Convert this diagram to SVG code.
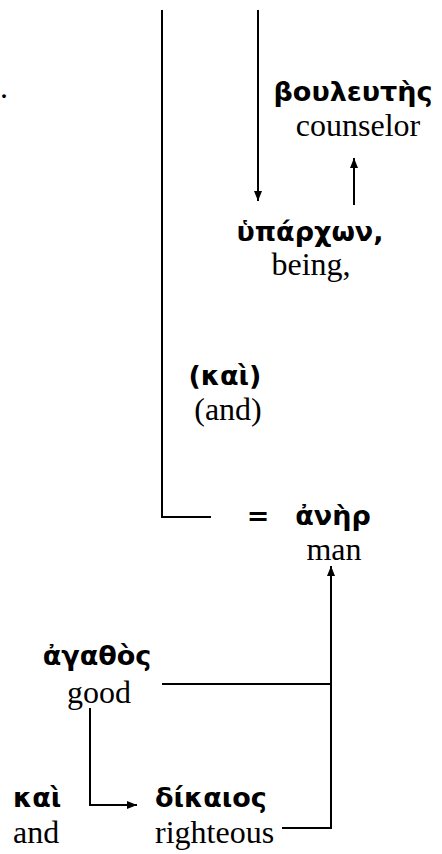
<svg xmlns="http://www.w3.org/2000/svg" width="442" height="854" viewBox="0 0 442 854">
<style>
.gk{font-family:"DejaVu Sans","Noto Sans",sans-serif;font-weight:bold;font-size:27px;fill:#000}
.en{font-family:"Liberation Serif","Times New Roman","DejaVu Serif",serif;font-size:32px;fill:#000}
.ln{fill:none;stroke:#000;stroke-width:2}
</style>
<defs>
<marker id="ah" markerUnits="userSpaceOnUse" markerWidth="10" markerHeight="10" viewBox="0 0 10 10" refX="10" refY="5" orient="auto">
<path d="M0,1 L10,5 L0,9 Z" fill="#000"/>
</marker>
</defs>
<text class="en" x="0" y="98">.</text>
<g id="connectors">
<polyline class="ln" points="162,10 162,517 211,517"/>
<line class="ln" x1="258" y1="10" x2="258" y2="201" marker-end="url(#ah)"/>
<line class="ln" x1="354" y1="205" x2="354" y2="158" marker-end="url(#ah)"/>
<line class="ln" x1="162" y1="684" x2="331" y2="684"/>
<polyline class="ln" points="282,828 331,828 331,566" marker-end="url(#ah)"/>
<polyline class="ln" points="90,708 90,805 137,805" marker-end="url(#ah)"/>
</g>
<g id="bouleutes">
<text class="gk" x="353" y="101" text-anchor="middle">βουλευτὴς</text>
<text class="en" x="358" y="136" text-anchor="middle">counselor</text>
</g>
<g id="hyparchon">
<text class="gk" x="310" y="241" text-anchor="middle">ὑπάρχων,</text>
<text class="en" x="311" y="275" text-anchor="middle">being,</text>
</g>
<g id="kai1">
<text class="gk" x="225" y="385" text-anchor="middle">(καὶ)</text>
<text class="en" x="228" y="420" text-anchor="middle">(and)</text>
</g>
<g id="aner">
<text class="gk" x="258" y="525" text-anchor="middle">=</text>
<text class="gk" x="333" y="525" text-anchor="middle">ἀνὴρ</text>
<text class="en" x="334" y="560" text-anchor="middle">man</text>
</g>
<g id="agathos">
<text class="gk" x="97" y="665" text-anchor="middle">ἀγαθὸς</text>
<text class="en" x="99" y="703" text-anchor="middle">good</text>
</g>
<g id="kai2">
<text class="gk" x="13" y="807">καὶ</text>
<text class="en" x="13" y="843">and</text>
</g>
<g id="dikaios">
<text class="gk" x="155" y="807">δίκαιος</text>
<text class="en" x="155" y="843">righteous</text>
</g>
</svg>
